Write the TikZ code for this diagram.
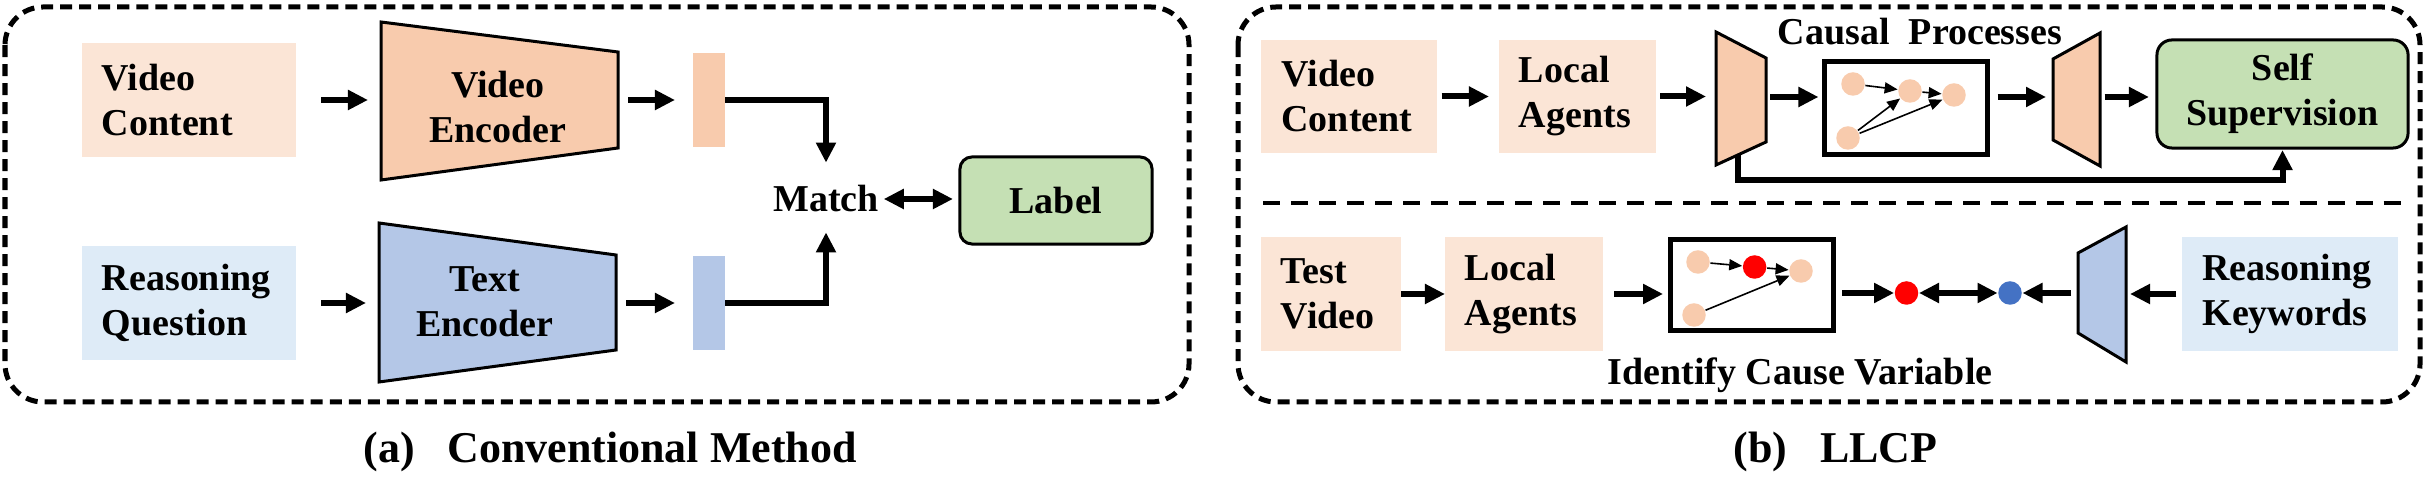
\documentclass[tikz,border=0pt]{standalone}
\usepackage{fontspec}
\setmainfont{Liberation Serif}
\usetikzlibrary{arrows.meta}
\definecolor{peach}{HTML}{FBE5D6}
\definecolor{orng}{HTML}{F8CBAD}
\definecolor{lblue}{HTML}{DEEBF7}
\definecolor{mblue}{HTML}{B4C7E7}
\definecolor{lgreen}{HTML}{C5E0B4}
\definecolor{dotblue}{HTML}{4472C4}
\begin{document}
\begin{tikzpicture}[x=0.01cm,y=-0.01cm,
  txt/.style={font=\bfseries\fontsize{10.8pt}{12.8pt}\selectfont, text=black},
  captxt/.style={font=\bfseries\fontsize{12.5pt}{15pt}\selectfont, text=black, inner sep=0pt},
  tbox/.style={txt, align=left, inner xsep=0.2cm, inner ysep=0pt, outer sep=0pt},
  trap/.style={draw=black, line width=0.03cm, line join=miter},
  arr/.style={line width=0.06cm, -{Triangle[length=0.2cm,width=0.19cm]}},
  dbl/.style={line width=0.06cm, {Triangle[length=0.2cm,width=0.19cm]}-{Triangle[length=0.2cm,width=0.19cm]}},
  sarr/.style={line width=0.016cm, -{Triangle[length=0.13cm,width=0.11cm]}},
  cnode/.style={circle, inner sep=0pt, minimum size=0.235cm, fill=orng},
  panel/.style={draw, line width=0.05cm, dash pattern=on 0.12cm off 0.07cm, rounded corners=0.38cm},
  rbox/.style={txt, draw, line width=0.03cm, align=center, inner sep=0pt, outer sep=0pt},
  cbox/.style={draw, line width=0.05cm, inner sep=0pt, outer sep=0pt}
]
\useasboundingbox (0,0) rectangle (2431,477);

% ---------------- panel (a) ----------------
\draw[panel] (5,7) rectangle (1189,402);

\node[tbox, fill=peach, text width=1.74cm, minimum height=1.14cm] (avc) at (189,100) {Video\\Content};
\node[tbox, fill=lblue, text width=1.74cm, minimum height=1.14cm] (arq) at (189,303) {Reasoning\\Question};

\draw[trap, fill=orng] (381,22) -- (618,52) -- (618,148) -- (381,180) -- cycle;
\coordinate (ve-w) at (381,100);
\coordinate (ve-e) at (618,100);
\node[txt, align=center, inner sep=0pt] (vetxt) at (498,107) {Video\\Encoder};

\draw[trap, fill=mblue] (379,223) -- (616,255) -- (616,350) -- (379,382) -- cycle;
\coordinate (te-w) at (379,303);
\coordinate (te-e) at (616,303);
\node[txt, align=center, inner sep=0pt] (tetxt) at (485,302) {Text\\Encoder};

\node[fill=orng, minimum width=0.32cm, minimum height=0.94cm, inner sep=0pt, outer sep=0pt] (vrect) at (709,100) {};
\node[fill=mblue, minimum width=0.32cm, minimum height=0.94cm, inner sep=0pt, outer sep=0pt] (trect) at (709,303) {};

\draw[arr, shorten <=0.25cm, shorten >=0.13cm] (avc.east) -- (ve-w);
\draw[arr, shorten <=0.25cm, shorten >=0.13cm] (arq.east) -- (te-w);
\draw[arr, shorten <=0.1cm, shorten >=0.18cm] (ve-e) -- (vrect.west);
\draw[arr, shorten <=0.1cm, shorten >=0.18cm] (te-e) -- (trect.west);

\node[txt, inner sep=0pt, outer sep=0pt] (match) at (826,199) {Match};
\draw[arr, shorten >=0.23cm] (vrect.east) -| (match.north);
\draw[arr, shorten >=0.2cm] (trect.east) -| (match.south);

\node[rbox, fill=lgreen, rounded corners=0.12cm, minimum width=1.92cm, minimum height=0.87cm] (label) at (1056,200.5) {Label};
\draw[dbl, shorten <=0.05cm, shorten >=0.07cm] (match.east) -- (match.east -| label.west);

\node[captxt, anchor=base] (capa) at (610,463) {(a)\hspace{9.3pt}Conventional Method};

% ---------------- panel (b) ----------------
\draw[panel] (1238,7) rectangle (2420,402);
\draw[line width=0.045cm, dash pattern=on 0.17cm off 0.11cm] (1263,203) coordinate (div-l) -- (2405,203) coordinate (div-r);

% top row
\node[tbox, fill=peach, text width=1.35cm, minimum height=1.13cm] (bvc) at (1349,96.5) {Video\\Content};
\node[tbox, fill=peach, text width=1.17cm, minimum height=1.13cm] (bla) at (1577.5,96.5) {Local\\Agents};

\draw[trap, fill=orng] (1716,32) -- (1766,58) -- (1766,142) -- (1716,165) -- cycle;
\coordinate (t1-w) at (1716,97);
\coordinate (t1-e) at (1766,97);
\coordinate (t1-b) at (1738,155);

\node[cbox, minimum width=1.63cm, minimum height=0.93cm] (cb) at (1906,108) {};
\node[txt, anchor=base, inner sep=0pt] (cbtxt) at (1920,45) {Causal\ \ Processes};
\node[cnode] (n1) at (1853,84) {};
\node[cnode] (n2) at (1910,91) {};
\node[cnode] (n3) at (1954,95) {};
\node[cnode] (n4) at (1848,138) {};
\draw[sarr] (n1) -- (n2);
\draw[sarr] (n2) -- (n3);
\draw[sarr] (n4) -- (n2);
\draw[sarr] (n4) -- (n3);

\draw[trap, fill=orng] (2053,59) -- (2100,33) -- (2100,166) -- (2053,140) -- cycle;
\coordinate (t2-w) at (2053,97);
\coordinate (t2-e) at (2100,97);

\node[rbox, fill=lgreen, rounded corners=0.15cm, minimum width=2.51cm, minimum height=1.08cm] (ss) at (2282.5,94) {Self\\Supervision};

\draw[arr, shorten <=0.05cm, shorten >=0.1cm] (bvc.east) -- (bla.west);
\draw[arr, shorten <=0.04cm, shorten >=0.1cm] (bla.east) -- (bla.east -| t1-w);
\draw[arr, shorten <=0.04cm, shorten >=0.06cm] (t1-e) -- (t1-e -| cb.west);
\draw[arr, shorten <=0.1cm, shorten >=0.07cm] (t2-w -| cb.east) -- (t2-w);
\draw[arr, shorten <=0.045cm, shorten >=0.08cm] (t2-e) -- (t2-e -| ss.west);
\coordinate (fb) at (1738,180);
\draw[arr, shorten >=0.02cm] (t1-b) -- (fb) -| (ss.south);

% bottom row
\node[tbox, fill=peach, text width=1.0cm, minimum height=1.14cm] (tv) at (1331,294) {Test\\Video};
\node[tbox, fill=peach, text width=1.18cm, minimum height=1.14cm] (la2) at (1524,294) {Local\\Agents};
\node[tbox, fill=lblue, text width=1.75cm, minimum height=1.14cm] (rk) at (2290,294) {Reasoning\\Keywords};

\node[cbox, minimum width=1.63cm, minimum height=0.91cm] (ib) at (1751.6,285) {};
\node[txt, anchor=base, inner sep=0pt] (ibtxt) at (1800,385) {Identify Cause Variable};
\node[cnode] (m1) at (1698,262) {};
\node[cnode, fill=red] (m2) at (1754.6,267) {};
\node[cnode] (m3) at (1801,271) {};
\node[cnode] (m4) at (1694,315) {};
\draw[sarr] (m1) -- (m2);
\draw[sarr] (m2) -- (m3);
\draw[sarr] (m4) -- (m3);

\node[circle, inner sep=0pt, minimum size=0.235cm, fill=red] (rd) at (1906.5,293) {};
\node[circle, inner sep=0pt, minimum size=0.235cm, fill=dotblue] (bd) at (2010,293) {};

\draw[trap, fill=mblue] (2078,253) -- (2126,227) -- (2126,362) -- (2078,333) -- cycle;
\coordinate (bt-w) at (2078,293);
\coordinate (bt-e) at (2126,293);

\draw[arr] (tv.east) -- (la2.west);
\draw[arr, shorten <=0.11cm, shorten >=0.07cm] (la2.east) -- (la2.east -| ib.west);
\draw[arr, shorten <=0.09cm] (ib.east |- rd) -- (rd);
\draw[dbl] (rd) -- (bd);
\draw[arr, shorten <=0.07cm] (bt-w) -- (bd);
\draw[arr, shorten <=0.06cm, shorten >=0.04cm] (rk.west) -- (rk.west -| bt-e);

\node[captxt, anchor=base] (capb) at (1835.5,463) {(b)\hspace{9.3pt}LLCP};
\end{tikzpicture}
\end{document}
